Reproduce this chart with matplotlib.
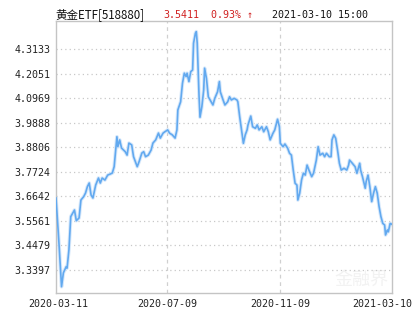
import matplotlib
matplotlib.use("Agg")
import matplotlib.pyplot as plt
import matplotlib.transforms as mtransforms
import pandas as pd
import numpy as np

# ---- data ----
start_date = "2020-03-11"
day_offset = [0, 3, 6, 8, 11, 12, 14, 16, 19, 20, 22, 25, 27, 30, 32, 34, 36, 38, 40, 43,
              46, 48, 50, 53, 56, 59, 61, 63, 66, 67, 69, 71, 75, 77, 79, 82, 84, 88, 90, 93,
              95, 97, 100, 103, 105, 108, 111, 113, 116, 118, 121, 123, 126, 129, 131, 132, 135, 137, 139, 141,
              142, 144, 146, 148, 149, 151, 152, 153, 154, 155, 156, 158, 160, 161, 163, 165, 168, 170, 172, 175,
              177, 178, 181, 183, 186, 188, 190, 193, 196, 197, 199, 201, 203, 205, 207, 208, 211, 213, 216, 218,
              220, 223, 225, 228, 230, 232, 235, 237, 240, 242, 243, 246, 248, 251, 253, 255, 257, 259, 261, 262,
              264, 266, 268, 270, 272, 274, 277, 279, 282, 284, 286, 289, 291, 293, 296, 298, 299, 301, 303, 305,
              307, 309, 312, 315, 317, 318, 321, 324, 326, 329, 330, 332, 335, 336, 338, 340, 342, 344, 346, 348,
              350, 352, 354, 356, 357, 359, 360, 362, 364]
price = [3.657, 3.472, 3.266, 3.327, 3.354, 3.348, 3.428, 3.575, 3.597, 3.604, 3.557, 3.569, 3.648, 3.663, 3.679, 3.707, 3.723, 3.670, 3.657, 3.714,
         3.745, 3.723, 3.745, 3.736, 3.758, 3.763, 3.767, 3.795, 3.927, 3.883, 3.913, 3.877, 3.861, 3.846, 3.899, 3.891, 3.839, 3.795, 3.817, 3.855,
         3.861, 3.839, 3.846, 3.868, 3.899, 3.913, 3.943, 3.921, 3.943, 3.949, 3.957, 3.943, 3.935, 3.921, 3.957, 4.045, 4.081, 4.162, 4.207, 4.192,
         4.207, 4.170, 4.214, 4.221, 4.339, 4.383, 4.390, 4.339, 4.221, 4.103, 4.013, 4.059, 4.133, 4.229, 4.184, 4.103, 4.081, 4.067, 4.096, 4.125,
         4.170, 4.125, 4.089, 4.067, 4.081, 4.103, 4.089, 4.096, 4.089, 4.081, 4.015, 3.957, 3.898, 3.935, 3.957, 3.979, 4.018, 3.971, 3.964, 3.979,
         3.957, 3.971, 3.949, 3.971, 3.949, 3.913, 3.942, 3.957, 4.004, 3.971, 3.898, 3.883, 3.895, 3.876, 3.854, 3.846, 3.780, 3.722, 3.714, 3.648,
         3.678, 3.736, 3.766, 3.758, 3.802, 3.780, 3.751, 3.766, 3.824, 3.883, 3.846, 3.854, 3.839, 3.854, 3.839, 3.839, 3.913, 3.935, 3.920, 3.868,
         3.810, 3.780, 3.788, 3.780, 3.802, 3.824, 3.810, 3.795, 3.766, 3.810, 3.780, 3.751, 3.700, 3.729, 3.758, 3.707, 3.641, 3.678, 3.707, 3.678,
         3.619, 3.575, 3.545, 3.538, 3.494, 3.516, 3.508, 3.545, 3.541]
y_ticks = [3.3397, 3.4479, 3.5561, 3.6642, 3.7724, 3.8806, 3.9888, 4.0969, 4.2051, 4.3133]
x_tick_labels = ["2020-03-11", "2020-07-09", "2020-11-09", "2021-03-10"]
title_name = "黄金ETF[518880]"
title_price = "3.5411"
title_change = "0.93% ↑"
title_time = "2021-03-10 15:00"

dates = pd.to_datetime(start_date) + pd.to_timedelta(day_offset, unit="D")
tick_dates = pd.to_datetime(x_tick_labels)

fig = plt.figure(figsize=(4.15, 3.3), dpi=100)
ax = fig.add_axes([56/415, 1-293/330, 336/415, 272/330])

line_color = "#62a9ef"
ax.plot(dates, price, color="#d6e8fb", lw=2.6, solid_joinstyle="round", zorder=2)
ax.plot(dates, price, color=line_color, lw=1.2, solid_joinstyle="round", zorder=3)

ax.set_xlim(tick_dates[0], tick_dates[-1])
ax.set_ylim(3.2383, 4.4370)
ax.set_yticks(y_ticks)
ax.set_yticklabels([f"{v:.4f}" for v in y_ticks])
ax.set_xticks(tick_dates)
ax.set_xticklabels(x_tick_labels)

for v in y_ticks:
    ax.axhline(v, color="#c8c8c8", lw=0.9, ls=(0, (1, 2.5)), zorder=1)
for d in tick_dates[1:3]:
    ax.axvline(d, color="#d0d0d0", lw=0.9, ls=(0, (3, 3)), zorder=1)

for s in ax.spines.values():
    s.set_color("#c4c4c4")
    s.set_linewidth(1.0)

ax.tick_params(length=0, pad=4, labelsize=7.2, colors="#222222")
for lab in ax.get_xticklabels() + ax.get_yticklabels():
    lab.set_family(["DejaVu Sans Mono"])

# shift the first/last x labels like the reference
xlabs = ax.get_xticklabels()
xlabs[0].set_transform(xlabs[0].get_transform() + mtransforms.ScaledTranslation(2/100, 0, fig.dpi_scale_trans))
xlabs[-1].set_transform(xlabs[-1].get_transform() + mtransforms.ScaledTranslation(-10/100, 0, fig.dpi_scale_trans))

# watermark
ax.text(0.91, 0.05, "金融界", transform=ax.transAxes, ha="center", va="center",
        fontsize=13, color="#f2f2f2", family=["Noto Sans CJK SC", "DejaVu Sans"], zorder=0)

ty = 1 - 15/330
fig.text(55/415, ty, title_name, ha="left", va="center", fontsize=8.3, color="#111111",
         family=["Noto Sans CJK SC", "DejaVu Sans"])
fig.text(163/415, ty, title_price, ha="left", va="center", fontsize=7.2, color="#d02020",
         family=["DejaVu Sans Mono", "DejaVu Sans"])
fig.text(211/415, ty, title_change, ha="left", va="center", fontsize=7.2, color="#d02020",
         family=["DejaVu Sans Mono", "DejaVu Sans"])
fig.text(272/415, ty, title_time, ha="left", va="center", fontsize=7.2, color="#111111",
         family=["DejaVu Sans Mono", "DejaVu Sans"])

fig.savefig("out.png", dpi=100)
